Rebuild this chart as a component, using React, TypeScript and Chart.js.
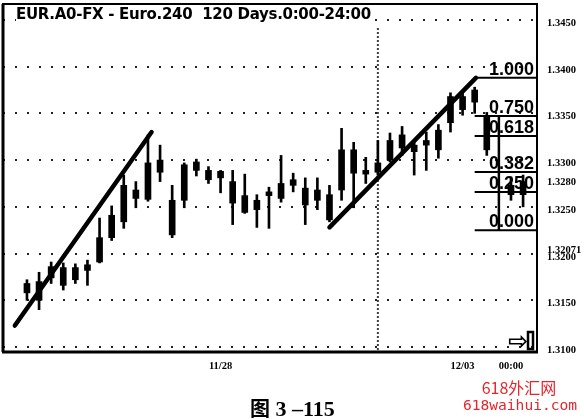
import { useEffect, useRef } from "react";
import { Chart, registerables } from "chart.js";

Chart.register(...registerables);

// ---- data (EUR 4h candles) ----
const opens: (number | null)[] = [
  1.3158, 1.3150, 1.3174, 1.3185, 1.3172, 1.3182, 1.3191, 1.3217, 1.3234, 1.3268,
  1.3258, 1.3300, 1.3257, 1.3257, 1.3298, 1.3289, 1.3281, 1.3277, 1.3262, 1.3247,
  1.3262, 1.3259, 1.3279, 1.3270, 1.3257, 1.3263, 1.3268, 1.3311, 1.3285, 1.3287,
  1.3300, 1.3313, 1.3316, 1.3316, 1.3311, 1.3340, 1.3368, 1.3362, 1.3347, null,
  1.3273, 1.3263,
];
const highs: (number | null)[] = [
  1.3172, 1.3180, 1.3191, 1.3190, 1.3189, 1.3193, 1.3238, 1.3251, 1.3284, 1.3277,
  1.3327, 1.3316, 1.3273, 1.3297, 1.3301, 1.3293, 1.3289, 1.3289, 1.3285, 1.3263,
  1.3271, 1.3305, 1.3286, 1.3281, 1.3281, 1.3273, 1.3334, 1.3319, 1.3303, 1.3321,
  1.3329, 1.3336, 1.3319, 1.3330, 1.3338, 1.3372, 1.3372, 1.3378, 1.3351, null,
  1.3282, 1.3284,
];
const lows: (number | null)[] = [
  1.3150, 1.3140, 1.3168, 1.3161, 1.3168, 1.3166, 1.3190, 1.3214, 1.3227, 1.3249,
  1.3256, 1.3277, 1.3217, 1.3249, 1.3283, 1.3275, 1.3265, 1.3231, 1.3243, 1.3228,
  1.3227, 1.3255, 1.3266, 1.3231, 1.3247, 1.3234, 1.3257, 1.3249, 1.3275, 1.3284,
  1.3298, 1.3305, 1.3284, 1.3289, 1.3302, 1.3330, 1.3348, 1.3350, 1.3305, null,
  1.3257, 1.3250,
];
const closes: (number | null)[] = [
  1.3168, 1.3170, 1.3186, 1.3166, 1.3185, 1.3188, 1.3217, 1.3241, 1.3273, 1.3259,
  1.3297, 1.3287, 1.3220, 1.3295, 1.3289, 1.3279, 1.3288, 1.3254, 1.3244, 1.3257,
  1.3266, 1.3275, 1.3273, 1.3252, 1.3268, 1.3236, 1.3311, 1.3286, 1.3289, 1.3297,
  1.3321, 1.3327, 1.3309, 1.3321, 1.3332, 1.3368, 1.3354, 1.3375, 1.3311, null,
  1.3263, 1.3277,
];

// trend lines (candle index, price)
const trend1X = [-1.0, 10.3];
const trend1Y = [1.3123, 1.333];
const trend2X = [25.0, 37.1];
const trend2Y = [1.3228, 1.3388];

// Fibonacci retracement
const fibHigh = 1.3388;
const fibLow = 1.3225;
const fibRatios = [1, 0.75, 0.618, 0.382, 0.25, 0];
const fibStartIdx = 37;
const fibStemIdx = 39;

// separator
const sepIdx = 29;
const sepTop = 1.3441;

// axes
const yTicks = [1.345, 1.34, 1.335, 1.33, 1.328, 1.325, 1.32071, 1.32, 1.315, 1.31];
const yTickLabels = ["1.3450", "1.3400", "1.3350", "1.3300", "1.3280", "1.3250", "1.32071", "1.3200", "1.3150", "1.3100"];
const xTickIdx = [16, 36, 40];
const xTickLabels = ["11/28", "12/03", "00:00"];
const xMin = -1.98;
const xMax = 42.15;
const yMin = 1.30947;
const yMax = 1.3467;

const titleText = "EUR.A0-FX - Euro.240  120 Days.0:00-24:00";

const overlayPlugin = {
  id: "overlay",
  afterDatasetsDraw(chart: any) {
    const { ctx, chartArea: a, scales } = chart;
    const ys = scales.y;
    ctx.save();
    // fib labels
    ctx.fillStyle = "#000";
    ctx.font = 'bold 18px "Liberation Sans"';
    ctx.textAlign = "right";
    ctx.textBaseline = "alphabetic";
    fibRatios.forEach((r) => {
      const py = ys.getPixelForValue(fibLow + r * (fibHigh - fibLow));
      ctx.fillText(r.toFixed(3), a.right - 3, py - 3);
    });
    // frame
    ctx.strokeStyle = "#000";
    ctx.lineWidth = 2;
    ctx.strokeRect(a.left, a.top, a.right - a.left, a.bottom - a.top);
    ctx.lineWidth = 3;
    ctx.beginPath();
    ctx.moveTo(a.left - 1, a.bottom);
    ctx.lineTo(a.right + 1, a.bottom);
    ctx.moveTo(a.left, a.top);
    ctx.lineTo(a.left, a.bottom);
    ctx.stroke();
    // scroll arrow icon
    ctx.font = 'bold 24px "DejaVu Sans"';
    ctx.textAlign = "left";
    ctx.fillText("\u21E8", a.right - 29, a.bottom - 3);
    ctx.lineWidth = 2.5;
    ctx.strokeRect(a.right - 9, a.bottom - 20, 5, 17);
    ctx.restore();
  },
};

export default function App() {
  const ref = useRef<HTMLCanvasElement>(null);
  useEffect(() => {
    const slots = highs.map((_, i) => i).filter((i) => highs[i] != null);
    const wickData = slots.map((i) => ({ x: i, y: [lows[i] as number, highs[i] as number] }));
    const bodyData = slots.map((i) => ({
      x: i,
      y: [Math.min(opens[i] as number, closes[i] as number), Math.max(opens[i] as number, closes[i] as number)],
    }));
    const lineBase = { type: "line" as const, borderColor: "#000", pointRadius: 0, fill: false, tension: 0 };
    const fibSets = fibRatios.map((r) => ({
      ...lineBase,
      borderWidth: 2,
      data: [
        { x: fibStartIdx, y: fibLow + r * (fibHigh - fibLow) },
        { x: xMax, y: fibLow + r * (fibHigh - fibLow) },
      ],
    }));
    const chart = new Chart(ref.current as HTMLCanvasElement, {
      type: "bar",
      data: {
        datasets: [
          {
            type: "bar",
            data: bodyData as any,
            backgroundColor: "#000",
            borderColor: "#000",
            borderWidth: 0,
            barThickness: 6,
            grouped: false,
          } as any,
          {
            type: "bar",
            data: wickData as any,
            backgroundColor: "#000",
            borderColor: "#000",
            borderWidth: 0,
            barThickness: 2,
            grouped: false,
          } as any,
          { ...lineBase, borderWidth: 4.5, borderCapStyle: "round", data: trend1X.map((x, i) => ({ x, y: trend1Y[i] })) },
          { ...lineBase, borderWidth: 4.5, borderCapStyle: "round", data: trend2X.map((x, i) => ({ x, y: trend2Y[i] })) },
          ...fibSets,
          {
            ...lineBase,
            borderWidth: 2.5,
            data: [
              { x: fibStemIdx, y: fibLow + 0.75 * (fibHigh - fibLow) },
              { x: fibStemIdx, y: fibLow },
            ],
          },
          {
            ...lineBase,
            borderWidth: 2,
            borderDash: [1.5, 2.5],
            data: [
              { x: sepIdx, y: sepTop },
              { x: sepIdx, y: yMin },
            ],
          },
        ] as any,
      },
      options: {
        animation: false,
        responsive: false,
        devicePixelRatio: 1,
        layout: { padding: { left: 3, top: 4, right: 0, bottom: 0 } },
        plugins: { legend: { display: false }, tooltip: { enabled: false }, title: { display: false } },
        scales: {
          x: {
            type: "linear",
            min: xMin,
            max: xMax,
            offset: false,
            grid: { display: false, drawTicks: false },
            border: { display: false },
            afterBuildTicks: (s: any) => {
              s.ticks = xTickIdx.map((v) => ({ value: v }));
            },
            afterFit: (s: any) => {
              s.height = 67;
            },
            ticks: {
              autoSkip: false,
              maxRotation: 0,
              padding: 8,
              color: "#000",
              font: { family: '"Liberation Serif"', size: 10.5, weight: "bold" },
              callback: (_v: any, i: number) => xTickLabels[i],
            },
          },
          y: {
            type: "linear",
            position: "right",
            min: yMin,
            max: yMax,
            beginAtZero: false,
            grid: {
              drawTicks: true,
              tickLength: 10,
              tickColor: "rgba(0,0,0,0)",
              lineWidth: 2,
              color: (c: any) => {
                const v = c.tick ? c.tick.value : 0;
                const n = v * 10000;
                const isMajor = Math.abs(n - Math.round(n)) < 1e-6 && Math.round(n) % 50 === 0;
                return isMajor ? "#222" : "rgba(0,0,0,0)";
              },
            },
            border: { display: false, dash: [2, 10] },
            afterBuildTicks: (s: any) => {
              s.ticks = yTicks.map((v) => ({ value: v }));
            },
            afterFit: (s: any) => {
              s.width = 47;
            },
            ticks: {
              autoSkip: false,
              align: "start",
              padding: 0,
              labelOffset: -2,
              color: "#000",
              font: { family: '"Liberation Serif"', size: 10.5, weight: "bold" },
              callback: (_v: any, i: number) => yTickLabels[i],
            },
          },
        },
      },
      plugins: [overlayPlugin],
    } as any);
    return () => chart.destroy();
  }, []);

  return (
    <div style={{ position: "absolute", left: 0, top: 0, width: 584, height: 419, background: "#fff", overflow: "hidden" }}>
      <canvas ref={ref} width={584} height={419} style={{ position: "absolute", left: 0, top: 0, width: 584, height: 419 }} />
      <div
        style={{
          position: "absolute",
          left: 16,
          top: 6,
          font: 'bold 15px "DejaVu Sans"',
          whiteSpace: "pre",
          color: "#000",
          letterSpacing: "-0.3px",
          background: "#fff",
          lineHeight: "17px",
        }}
      >
        {titleText}
      </div>
      <div style={{ position: "absolute", left: 250, top: 393, whiteSpace: "pre", color: "#000", lineHeight: "22px" }}>
        <span style={{ font: 'bold 20px "Noto Sans CJK SC"' }}>图</span>
        <span style={{ font: 'bold 22px "Liberation Serif"' }}> 3 –115</span>
      </div>
      <div
        style={{
          position: "absolute",
          left: 439,
          width: 160,
          top: 379,
          textAlign: "center",
          color: "#e4262c",
          font: '16px "Noto Sans CJK SC"',
          lineHeight: "16px",
        }}
      >
        618外汇网
      </div>
      <div
        style={{
          position: "absolute",
          left: 440,
          width: 160,
          top: 398,
          textAlign: "center",
          color: "#e4262c",
          font: '14.6px "DejaVu Sans Mono"',
          lineHeight: "14.6px",
        }}
      >
        618waihui.com
      </div>
    </div>
  );
}
